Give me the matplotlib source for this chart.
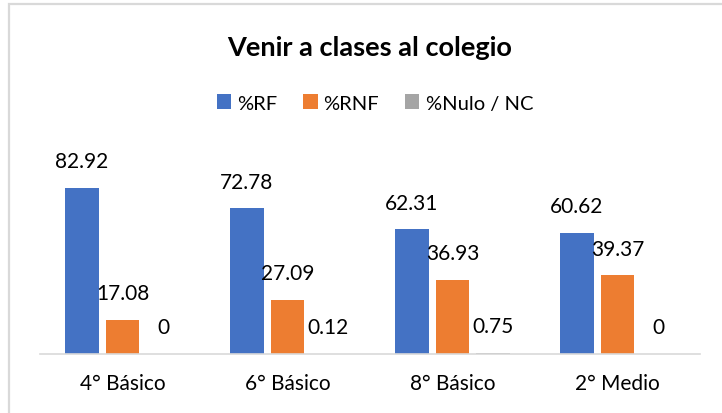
import matplotlib
matplotlib.use("Agg")
import matplotlib.pyplot as plt
from matplotlib.patches import Rectangle
import numpy as np

categories = ["4° Básico", "6° Básico", "8° Básico", "2° Medio"]
series_names = ["%RF", "%RNF", "%Nulo / NC"]
rf = [82.92, 72.78, 62.31, 60.62]
rnf = [17.08, 27.09, 36.93, 39.37]
nulo = [0, 0.12, 0.75, 0]
colors = ["#4472C4", "#ED7D31", "#A5A5A5"]

plt.rcParams['font.family'] = ['Lato', 'DejaVu Sans']

W, H = 722, 414
fig = plt.figure(figsize=(W / 100, H / 100), dpi=100)
fig.patch.set_facecolor("white")

# chart border
fig.patches.append(Rectangle((9 / W, -0.1), 1.2, (H - 5) / H + 0.1, transform=fig.transFigure,
                             fill=False, edgecolor="#D9D9D9", linewidth=1.6))

ax = fig.add_axes([40 / W, (H - 355) / H, 660 / W, 200 / H])
x = np.arange(len(categories))
bw = 0.206
step = 0.248
for i, (vals, c, name) in enumerate(zip([rf, rnf, nulo], colors, series_names)):
    pos = x + (i - 1) * step
    bars = ax.bar(pos, vals, width=bw, color=c, label=name, zorder=2)
    for b, v in zip(bars, vals):
        ax.annotate(f"{v:g}", (b.get_x() + b.get_width() / 2, v), xytext=(0, 12),
                    textcoords="offset points", ha="center", va="bottom",
                    fontsize=15, color="#000000")

ax.set_xlim(-0.5, len(categories) - 0.5)
ax.set_ylim(0, 100)
ax.set_yticks([])
ax.set_xticks(x)
ax.set_xticklabels(categories, fontsize=15)
ax.tick_params(axis="x", length=0, pad=14)
for s in ["top", "right", "left"]:
    ax.spines[s].set_visible(False)
ax.spines["bottom"].set_color("#D9D9D9")
ax.spines["bottom"].set_linewidth(1.2)

fig.text(370 / W, 1 - 48 / H, "Venir a clases al colegio", ha="center", va="center",
         fontsize=19.5, fontweight="bold")

handles, labels = ax.get_legend_handles_labels()
fig.legend(handles, labels, loc="center", bbox_to_anchor=(375 / W, 1 - 104 / H), ncol=3,
           frameon=False, fontsize=14.5, handlelength=0.7, handleheight=0.7,
           handletextpad=0.3, columnspacing=1.3)

fig.savefig("out.png", dpi=100)
